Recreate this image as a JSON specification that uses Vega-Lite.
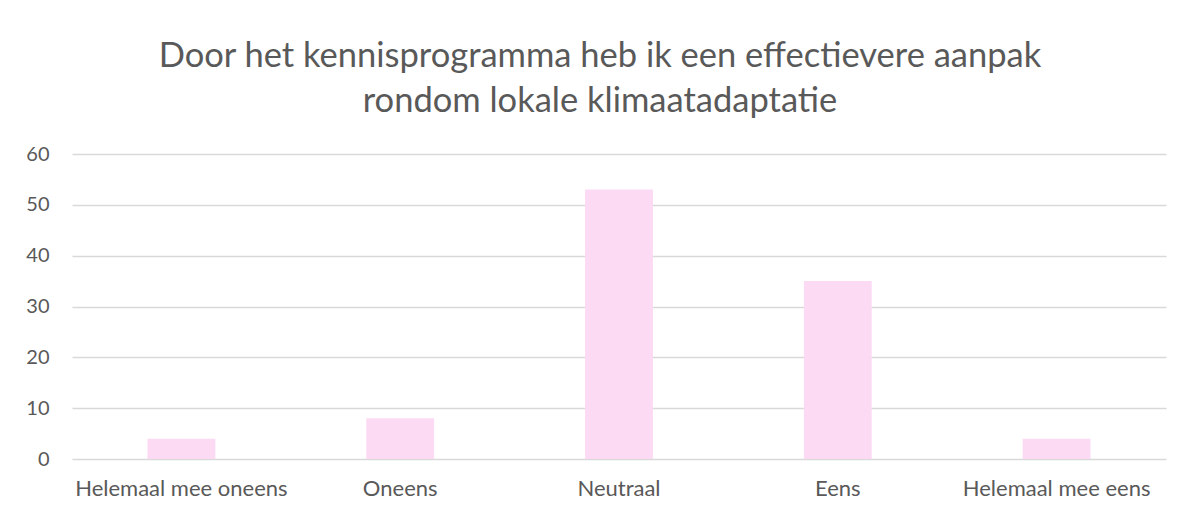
{
  "$schema": "https://vega.github.io/schema/vega-lite/v6.json",
  "autosize": {"type": "none"},
  "padding": {"left": 72, "top": 154, "right": 18, "bottom": 55},
  "width": 1094,
  "height": 305,
  "background": "white",
  "title": {
    "text": ["Door het kennisprogramma heb ik een effectievere aanpak", "rondom lokale klimaatadaptatie"],
    "font": "Lato",
    "fontSize": 34.5,
    "fontWeight": "normal",
    "color": "#595959",
    "lineHeight": 45,
    "anchor": "middle",
    "baseline": "alphabetic",
    "dx": -19,
    "offset": -2
  },
  "data": {
    "values": [
      {"antwoord": "Helemaal mee oneens", "aantal": 4},
      {"antwoord": "Oneens", "aantal": 8},
      {"antwoord": "Neutraal", "aantal": 53},
      {"antwoord": "Eens", "aantal": 35},
      {"antwoord": "Helemaal mee eens", "aantal": 4}
    ]
  },
  "mark": {"type": "bar", "color": "#FCDAF3"},
  "encoding": {
    "x": {
      "field": "antwoord",
      "type": "nominal",
      "sort": null,
      "scale": {"paddingInner": 0.69, "paddingOuter": 0.345},
      "axis": {
        "title": null,
        "labelAngle": 0,
        "ticks": false,
        "domain": false,
        "labelFont": "Lato",
        "labelFontSize": 22,
        "labelColor": "#595959",
        "labelPadding": 19,
        "labelLimit": 500
      }
    },
    "y": {
      "field": "aantal",
      "type": "quantitative",
      "scale": {"domain": [0, 60], "nice": false},
      "axis": {
        "title": null,
        "values": [0, 10, 20, 30, 40, 50, 60],
        "ticks": false,
        "domain": false,
        "grid": true,
        "gridColor": "#D9D9D9",
        "gridWidth": 1.5,
        "labelFont": "Lato",
        "labelFontSize": 20,
        "labelColor": "#595959",
        "labelPadding": 23
      }
    }
  },
  "config": {"view": {"stroke": null}}
}
